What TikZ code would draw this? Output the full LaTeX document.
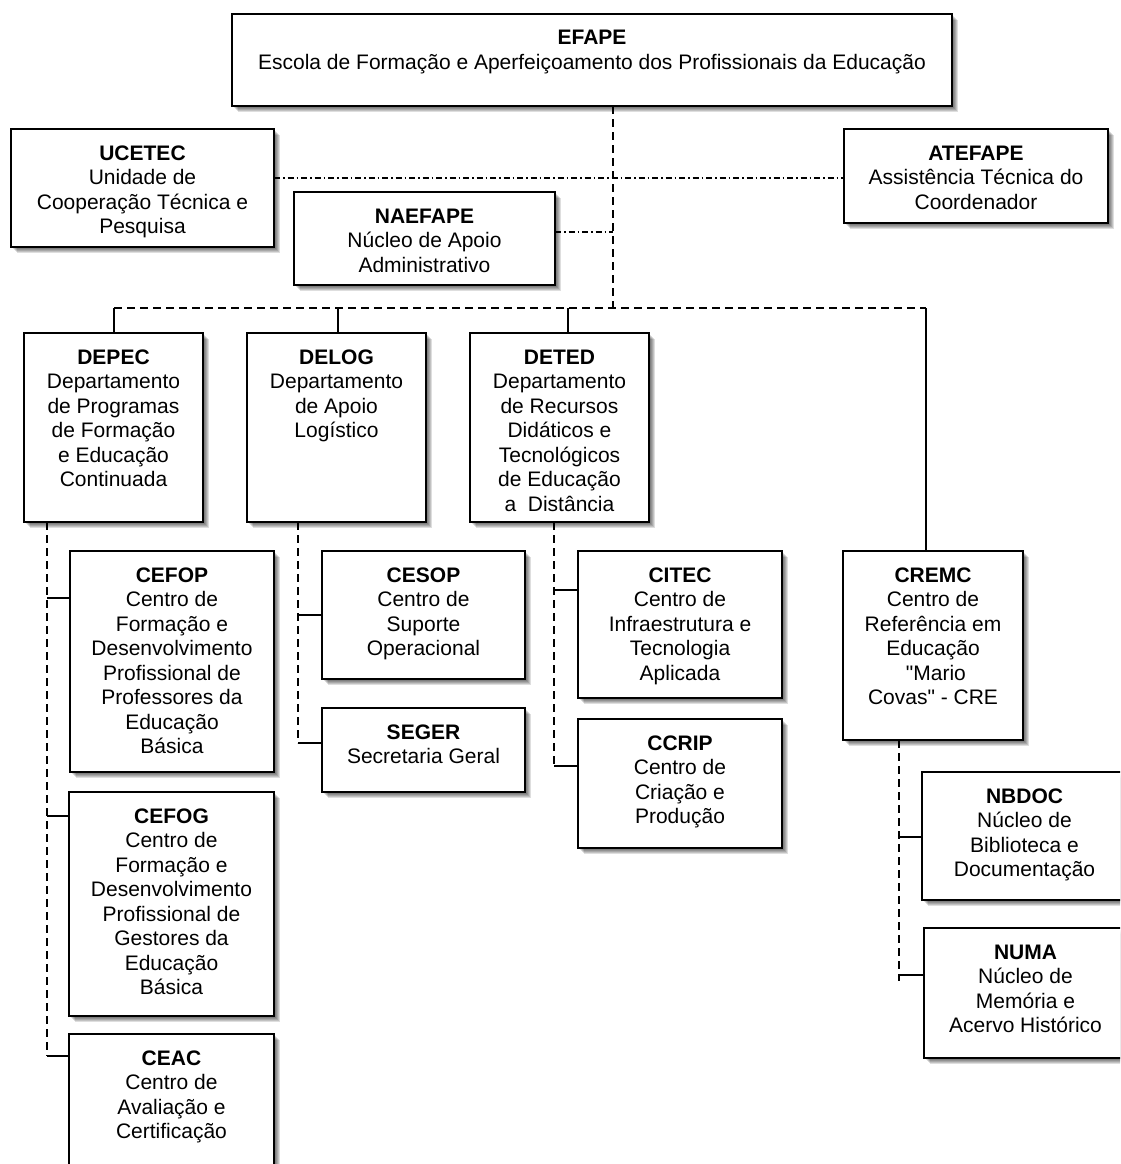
\documentclass[tikz,border=0pt]{standalone}
\usepackage{fontspec}
\setmainfont{Liberation Sans}[Ligatures=TeXOff]
\tikzset{
  obox/.style={draw=black, line width=2.2pt, fill=white, inner sep=0pt, outer sep=0pt},
  oshadow/.style={fill=black, opacity=.13},
  otext/.style={anchor=base, inner sep=0pt, font=\fontsize{21}{24.5}\selectfont},
  dashline/.style={line width=1.9pt, dash pattern=on 8pt off 5pt},
  ddline/.style={line width=1.4pt, dash pattern=on 6pt off 3pt on 1.5pt off 3pt},
  solidline/.style={line width=1.9pt},
}
\newcommand\obox[7]{%
  \foreach \k in {1,...,6}{\fill[oshadow] ({(#2)+\k},{(#3)+\k}) rectangle ({(#4)+\k},{(#5)+\k});}
  \node[obox, minimum width={(#4)-(#2)}, minimum height={(#5)-(#3)}] (#1) at ({((#2)+(#4))/2},{((#3)+(#5))/2}) {};
  \node[otext] (#1t) at ({((#2)+(#4))/2},{(#3)+31}) {\begin{tabular}[t]{@{}c@{}}\textbf{#6}\\#7\end{tabular}};
}
\begin{document}
\begin{tikzpicture}[x=1pt,y=-1pt]
\useasboundingbox (0,0) rectangle (1120,1164);
\clip (0,0) rectangle (1120,1164);
\fill[white] (0,0) rectangle (1120,1164);

\obox{EFAPE}{232}{14}{952}{106}{EFAPE}{Escola de Formação e Aperfeiçoamento dos Profissionais da Educação}
\obox{UCETEC}{11}{129}{274}{247}{UCETEC}{Unidade de\\Cooperação Técnica e\\Pesquisa}
\obox{ATEFAPE}{844}{129}{1108}{223}{ATEFAPE}{Assistência Técnica do\\Coordenador}
\obox{NAEFAPE}{294}{192}{555}{285}{NAEFAPE}{Núcleo de Apoio\\Administrativo}
\obox{DEPEC}{24}{333}{203}{522}{DEPEC}{Departamento\\de Programas\\de Formação\\e Educação\\Continuada}
\obox{DELOG}{247}{333}{426}{522}{DELOG}{Departamento\\de Apoio\\Logístico}
\obox{DETED}{470}{333}{649}{522}{DETED}{Departamento\\de Recursos\\Didáticos e\\Tecnológicos\\de Educação\\a\hspace{0.55em}Distância}
\obox{CREMC}{843}{551}{1023}{740}{CREMC}{Centro de\\Referência em\\Educação\\\ "Mario\\Covas" - CRE}
\obox{CEFOP}{70}{551}{274}{772}{CEFOP}{Centro de\\Formação e\\Desenvolvimento\\Profissional de\\Professores da\\Educação\\Básica}
\obox{CEFOG}{69}{792}{274}{1016}{CEFOG}{Centro de\\Formação e\\Desenvolvimento\\Profissional de\\Gestores da\\Educação\\Básica}
\obox{CEAC}{69}{1034}{274}{1200}{CEAC}{Centro de\\Avaliação e\\Certificação}
\obox{CESOP}{322}{551}{525}{679}{CESOP}{Centro de\\Suporte\\Operacional}
\obox{SEGER}{322}{708}{525}{792}{SEGER}{Secretaria Geral}
\obox{CITEC}{578}{551}{782}{698}{CITEC}{Centro de\\Infraestrutura e\\Tecnologia\\Aplicada}
\obox{CCRIP}{578}{719}{782}{848}{CCRIP}{Centro de\\Criação e\\Produção}
\obox{NBDOC}{922}{772}{1127}{900}{NBDOC}{Núcleo de\\Biblioteca e\\Documentação}
\obox{NUMA}{924}{928}{1127}{1058}{NUMA}{Núcleo de\\Memória e\\Acervo Histórico}

% main trunk
\coordinate (bus) at (613,308);
\draw[dashline] (EFAPE.south -| bus) -- (bus);
% staff links
\coordinate (dd) at (613,178);
\draw[ddline] (UCETEC.east |- dd) -- (ATEFAPE.west |- dd);
\coordinate (nd) at (613,232);
\draw[ddline] (NAEFAPE.east |- nd) -- (nd);
% bus and drops
\coordinate (b1) at (114,308);
\coordinate (b2) at (338,308);
\coordinate (b3) at (568,308);
\coordinate (b4) at (926,308);
\draw[dashline] (b1) -- (b4);
\draw[solidline] (b1) -- (b1 |- DEPEC.north);
\draw[solidline] (b2) -- (b2 |- DELOG.north);
\draw[solidline] (b3) -- (b3 |- DETED.north);
\draw[solidline] (b4) -- (b4 |- CREMC.north);
% DEPEC
\coordinate (s11) at (47,598);
\coordinate (s12) at (47,816);
\coordinate (s13) at (47,1056);
\draw[dashline] (DEPEC.south -| s11) -- (s13);
\draw[solidline] (s11) -- (s11 -| CEFOP.west);
\draw[solidline] (s12) -- (s12 -| CEFOG.west);
\draw[solidline] (s13) -- (s13 -| CEAC.west);
% DELOG
\coordinate (s21) at (298,615);
\coordinate (s22) at (298,743);
\draw[dashline] (DELOG.south -| s21) -- (s22);
\draw[solidline] (s21) -- (s21 -| CESOP.west);
\draw[solidline] (s22) -- (s22 -| SEGER.west);
% DETED
\coordinate (s31) at (554,590);
\coordinate (s32) at (554,766);
\draw[dashline] (DETED.south -| s31) -- (s32);
\draw[solidline] (s31) -- (s31 -| CITEC.west);
\draw[solidline] (s32) -- (s32 -| CCRIP.west);
% CREMC
\coordinate (s41) at (899,837);
\coordinate (s42) at (899,975);
\coordinate (s43) at (899,981);
\draw[dashline] (CREMC.south -| s41) -- (s43);
\draw[solidline] (s41) -- (s41 -| NBDOC.west);
\draw[solidline] (s42) -- (s42 -| NUMA.west);
\end{tikzpicture}
\end{document}
